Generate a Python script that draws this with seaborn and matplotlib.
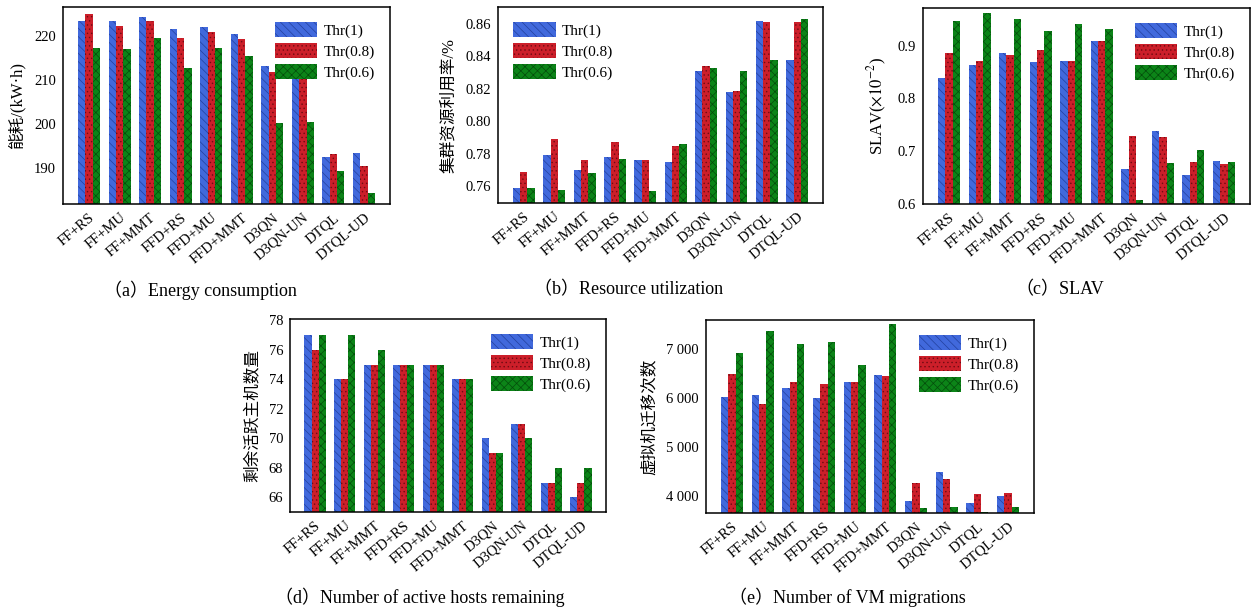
import numpy as np
import pandas as pd
import matplotlib
matplotlib.use("Agg")
import matplotlib.pyplot as plt
from matplotlib.patches import Patch
from matplotlib.ticker import FuncFormatter
import seaborn as sns

methods = ["FF+RS", "FF+MU", "FF+MMT", "FFD+RS", "FFD+MU", "FFD+MMT",
           "D3QN", "D3QN-UN", "DTQL", "DTQL-UD"]
thr_labels = ["Thr(1)", "Thr(0.8)", "Thr(0.6)"]

energy_thr1 = [223.4, 223.3, 224.3, 221.4, 222.0, 220.4, 213.0, 212.3, 192.5, 193.4]
energy_thr08 = [224.9, 222.2, 223.4, 219.4, 220.9, 219.3, 211.7, 211.4, 193.2, 190.4]
energy_thr06 = [217.3, 216.9, 219.4, 212.7, 217.1, 215.4, 200.2, 200.3, 189.3, 184.4]

util_thr1 = [0.759, 0.779, 0.770, 0.778, 0.776, 0.775, 0.831, 0.818, 0.862, 0.838]
util_thr08 = [0.769, 0.789, 0.776, 0.787, 0.776, 0.785, 0.834, 0.819, 0.861, 0.861]
util_thr06 = [0.759, 0.758, 0.768, 0.777, 0.757, 0.786, 0.833, 0.831, 0.838, 0.863]

slav_thr1 = [0.839, 0.864, 0.885, 0.868, 0.870, 0.909, 0.666, 0.739, 0.655, 0.682]
slav_thr08 = [0.885, 0.870, 0.882, 0.891, 0.870, 0.909, 0.728, 0.726, 0.679, 0.676]
slav_thr06 = [0.946, 0.961, 0.950, 0.927, 0.940, 0.931, 0.608, 0.678, 0.703, 0.680]

hosts_thr1 = [77, 74, 75, 75, 75, 74, 70, 71, 67, 66]
hosts_thr08 = [76, 74, 75, 75, 75, 74, 69, 71, 67, 67]
hosts_thr06 = [77, 77, 76, 75, 75, 74, 69, 70, 68, 68]

migr_thr1 = [6014, 6054, 6211, 6007, 6320, 6469, 3905, 4497, 3864, 4014]
migr_thr08 = [6490, 5871, 6320, 6279, 6320, 6442, 4265, 4347, 4054, 4061]
migr_thr06 = [6925, 7367, 7109, 7136, 6680, 7517, 3769, 3782, 3687, 3789]

face_colors = ["#4169dc", "#cc1f2a", "#0c8418"]
hatch_colors = ["#22409e", "#700b12", "#044d0b"]
hatches = ["\\\\\\\\", "....", "xxxx"]

sns.set_theme(style="white")
plt.rcParams["font.family"] = ["Liberation Serif", "Noto Sans CJK SC"]
plt.rcParams["mathtext.fontset"] = "stix"
plt.rcParams["hatch.linewidth"] = 0.5
plt.rcParams["axes.unicode_minus"] = False
for key in ["text.color", "axes.labelcolor", "xtick.color", "ytick.color",
            "xtick.labelcolor", "ytick.labelcolor"]:
    plt.rcParams[key] = "black"

W, H = 1260, 608
fig = plt.figure(figsize=(W / 100, H / 100), dpi=100)
fig.patch.set_facecolor("white")


def px_axes(l, r, t, b):
    return fig.add_axes([l / W, (H - b) / H, (r - l) / W, (b - t) / H])


panels = [
    dict(box=(63, 390, 7, 204), data=(energy_thr1, energy_thr08, energy_thr06),
         ylim=(181.8, 226.5), ticks=[190, 200, 210, 220], fmt=lambda v, p: f"{v:.0f}",
         ylabel="能耗/(kW·h)", legend="upper right",
         caption="（a）Energy consumption", cap=(200, 290)),
    dict(box=(498, 823, 7, 203), data=(util_thr1, util_thr08, util_thr06),
         ylim=(0.7497, 0.8705), ticks=[0.76, 0.78, 0.80, 0.82, 0.84, 0.86],
         fmt=lambda v, p: f"{v:.2f}",
         ylabel="集群资源利用率/%", legend="upper left",
         caption="（b）Resource utilization", cap=(629, 290)),
    dict(box=(923, 1250, 8, 204), data=(slav_thr1, slav_thr08, slav_thr06),
         ylim=(0.6, 0.971), ticks=[0.6, 0.7, 0.8, 0.9], fmt=lambda v, p: f"{v:.1f}",
         ylabel="SLAV($\\times 10^{-2}$)", legend="upper right",
         caption="（c）SLAV", cap=(1060, 290)),
    dict(box=(290, 606, 319, 512), data=(hosts_thr1, hosts_thr08, hosts_thr06),
         ylim=(65, 78.1), ticks=[66, 68, 70, 72, 74, 76, 78], fmt=lambda v, p: f"{v:.0f}",
         ylabel="剩余活跃主机数量", legend="upper right",
         caption="（d）Number of active hosts remaining", cap=(420, 597)),
    dict(box=(706, 1034, 320, 513), data=(migr_thr1, migr_thr08, migr_thr06),
         ylim=(3660, 7592), ticks=[4000, 5000, 6000, 7000],
         fmt=lambda v, p: f"{int(v) // 1000} {int(v) % 1000:03d}",
         ylabel="虚拟机迁移次数", legend="upper right",
         caption="（e）Number of VM migrations", cap=(847, 597)),
]

for pn in panels:
    ax = px_axes(*pn["box"])
    rows = []
    for lab, vals in zip(thr_labels, pn["data"]):
        for m, v in zip(methods, vals):
            rows.append({"method": m, "thr": lab, "value": v})
    df = pd.DataFrame(rows)
    sns.barplot(data=df, x="method", y="value", hue="thr", order=methods,
                hue_order=thr_labels, palette=face_colors, saturation=1,
                width=0.72, gap=0, errorbar=None, legend=False, ax=ax)
    for i, cont in enumerate(ax.containers):
        for bar in cont:
            bar.set_hatch(hatches[i])
            bar.set_edgecolor(hatch_colors[i])
            bar.set_linewidth(0)
    ax.set_xlim(-0.85, 9.85)
    ax.set_ylim(*pn["ylim"])
    ax.set_yticks(pn["ticks"])
    ax.yaxis.set_major_formatter(FuncFormatter(pn["fmt"]))
    ax.set_xlabel("")
    ax.set_ylabel(pn["ylabel"], fontsize=12, labelpad=6, color="black")
    ax.set_xticks(range(len(methods)))
    ax.set_xticklabels(methods, rotation=40, ha="right", rotation_mode="anchor",
                       fontsize=10.5)
    ax.tick_params(axis="y", labelsize=10.5, length=0, pad=5, labelcolor="black")
    ax.tick_params(axis="x", length=2, color="#bbbbbb", pad=3, labelcolor="black")
    for sp in ax.spines.values():
        sp.set_color("black")
        sp.set_linewidth(1.1)
    handles = [Patch(facecolor=face_colors[i], edgecolor=hatch_colors[i],
                     hatch=hatches[i], linewidth=0, label=thr_labels[i])
               for i in range(3)]
    ax.legend(handles=handles, loc=pn["legend"], frameon=False, fontsize=11,
              handlelength=2.8, handleheight=1.1, labelspacing=0.35,
              handletextpad=0.4, borderaxespad=0.6, labelcolor="black")
    cx, cy = pn["cap"]
    fig.text(cx / W, 1 - cy / H, pn["caption"], ha="center", va="center",
             fontsize=13, color="black")

fig.savefig("out.png", dpi=100, facecolor="white")
